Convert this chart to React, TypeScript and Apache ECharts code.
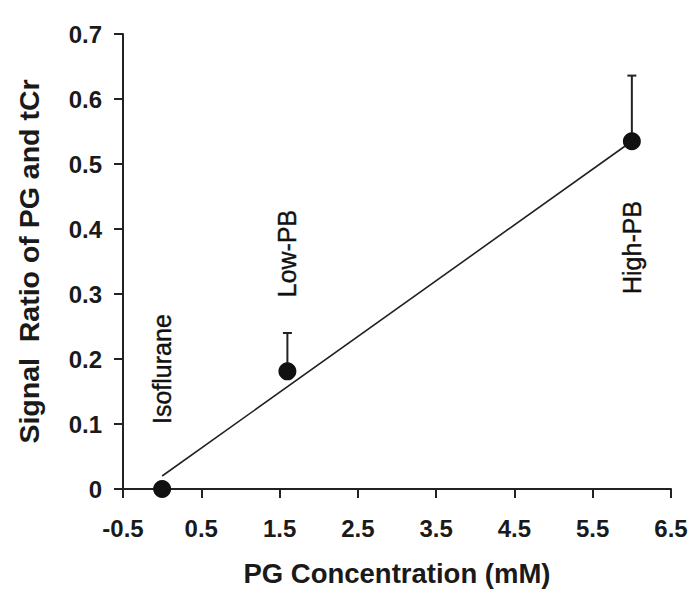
import React, { useEffect, useRef } from "react";
import * as echarts from "echarts";

// Data
const concentrations = [0, 1.6, 6];
const signalRatios = [0, 0.181, 0.535];
const errorUpper = [0, 0.24, 0.636];
const groupNames = ["Isoflurane", "Low-PB", "High-PB"];
const labelBaseY = [0.1, 0.295, 0.3];
const fitLine = [
  [0, 0.02],
  [6, 0.535],
];
const xTickLabels = ["-0.5", "0.5", "1.5", "2.5", "3.5", "4.5", "5.5", "6.5"];
const yTickLabels = ["0", "0.1", "0.2", "0.3", "0.4", "0.5", "0.6", "0.7"];

const FONT = "'Liberation Sans', Arial, sans-serif";
const TXT = "#1a1a1a";

export default function App() {
  const ref = useRef<HTMLDivElement>(null);
  useEffect(() => {
    if (!ref.current) return;
    const chart = echarts.init(ref.current, undefined, { renderer: "svg" });
    const points = concentrations.map((x, i) => [x, signalRatios[i]]);
    const errs = concentrations
      .map((x, i) => [x, signalRatios[i], errorUpper[i]])
      .filter((d) => d[2] > d[1]);
    const labels = concentrations.map((x, i) => ({
      value: [x, labelBaseY[i]],
      name: groupNames[i],
    }));
    chart.setOption({
      animation: false,
      grid: { left: 123, right: 24, top: 34, bottom: 111, containLabel: false },
      xAxis: [
        {
          type: "value",
          min: 0,
          max: 7,
          interval: 1,
          position: "bottom",
          axisLine: { show: true, lineStyle: { color: "#222", width: 2 } },
          axisTick: { show: true, inside: false, length: 9, lineStyle: { color: "#222", width: 2 } },
          splitLine: { show: false },
          axisLabel: {
            margin: 27,
            fontFamily: FONT,
            fontSize: 24,
            fontWeight: "bold",
            color: TXT,
            formatter: (v: number) => xTickLabels[Math.round(v)] ?? "",
          },
          name: "PG Concentration (mM)",
          nameLocation: "middle",
          nameGap: 70,
          nameTextStyle: { fontFamily: FONT, fontSize: 27.5, fontWeight: "bold", color: TXT },
        },
        {
          type: "value",
          min: -0.5,
          max: 6.5,
          show: false,
        },
      ],
      yAxis: {
        type: "value",
        min: 0,
        max: 0.7,
        interval: 0.1,
        axisLine: { show: true, lineStyle: { color: "#222", width: 2 } },
        axisTick: { show: true, inside: false, length: 9, lineStyle: { color: "#222", width: 2 } },
        splitLine: { show: false },
        axisLabel: {
          margin: 21,
          fontFamily: FONT,
          fontSize: 24,
          fontWeight: "bold",
          color: TXT,
          formatter: (v: number) => yTickLabels[Math.round(v * 10)] ?? "",
        },
        name: "Signal  Ratio of PG and tCr",
        nameLocation: "middle",
        nameRotate: 90,
        nameGap: 80,
        nameTextStyle: { fontFamily: FONT, fontSize: 28.5, fontWeight: "bold", color: TXT },
      },
      series: [
        {
          type: "line",
          xAxisIndex: 1,
          data: fitLine,
          symbol: "none",
          lineStyle: { color: "#222", width: 1.6 },
          z: 2,
        },
        {
          type: "custom",
          xAxisIndex: 1,
          data: errs,
          z: 3,
          renderItem: (_params: any, api: any) => {
            const p = api.coord([api.value(0), api.value(1)]);
            const t = api.coord([api.value(0), api.value(2)]);
            const style = { stroke: "#222", lineWidth: 2 };
            return {
              type: "group",
              children: [
                { type: "line", shape: { x1: p[0], y1: p[1], x2: t[0], y2: t[1] }, style },
                { type: "line", shape: { x1: t[0] - 4.5, y1: t[1], x2: t[0] + 4.5, y2: t[1] }, style },
              ],
            };
          },
        },
        {
          type: "scatter",
          xAxisIndex: 1,
          data: points,
          symbol: "circle",
          symbolSize: 18,
          itemStyle: { color: "#111", opacity: 1 },
          z: 4,
        },
        {
          type: "scatter",
          xAxisIndex: 1,
          data: labels,
          symbolSize: 0,
          itemStyle: { color: "transparent", opacity: 1 },
          silent: true,
          z: 5,
          label: {
            show: true,
            position: [0, 0],
            formatter: "{b}",
            rotate: 90,
            align: "left",
            verticalAlign: "middle",
            fontFamily: FONT,
            fontSize: 25,
            color: "#111",
            opacity: 1,
            textBorderColor: "#111",
            textBorderWidth: 0.4,
          },
        },
      ],
    });
    return () => chart.dispose();
  }, []);
  return (
    <div
      ref={ref}
      style={{ position: "fixed", left: 0, top: 0, width: 695, height: 600, background: "#fff" }}
    />
  );
}
